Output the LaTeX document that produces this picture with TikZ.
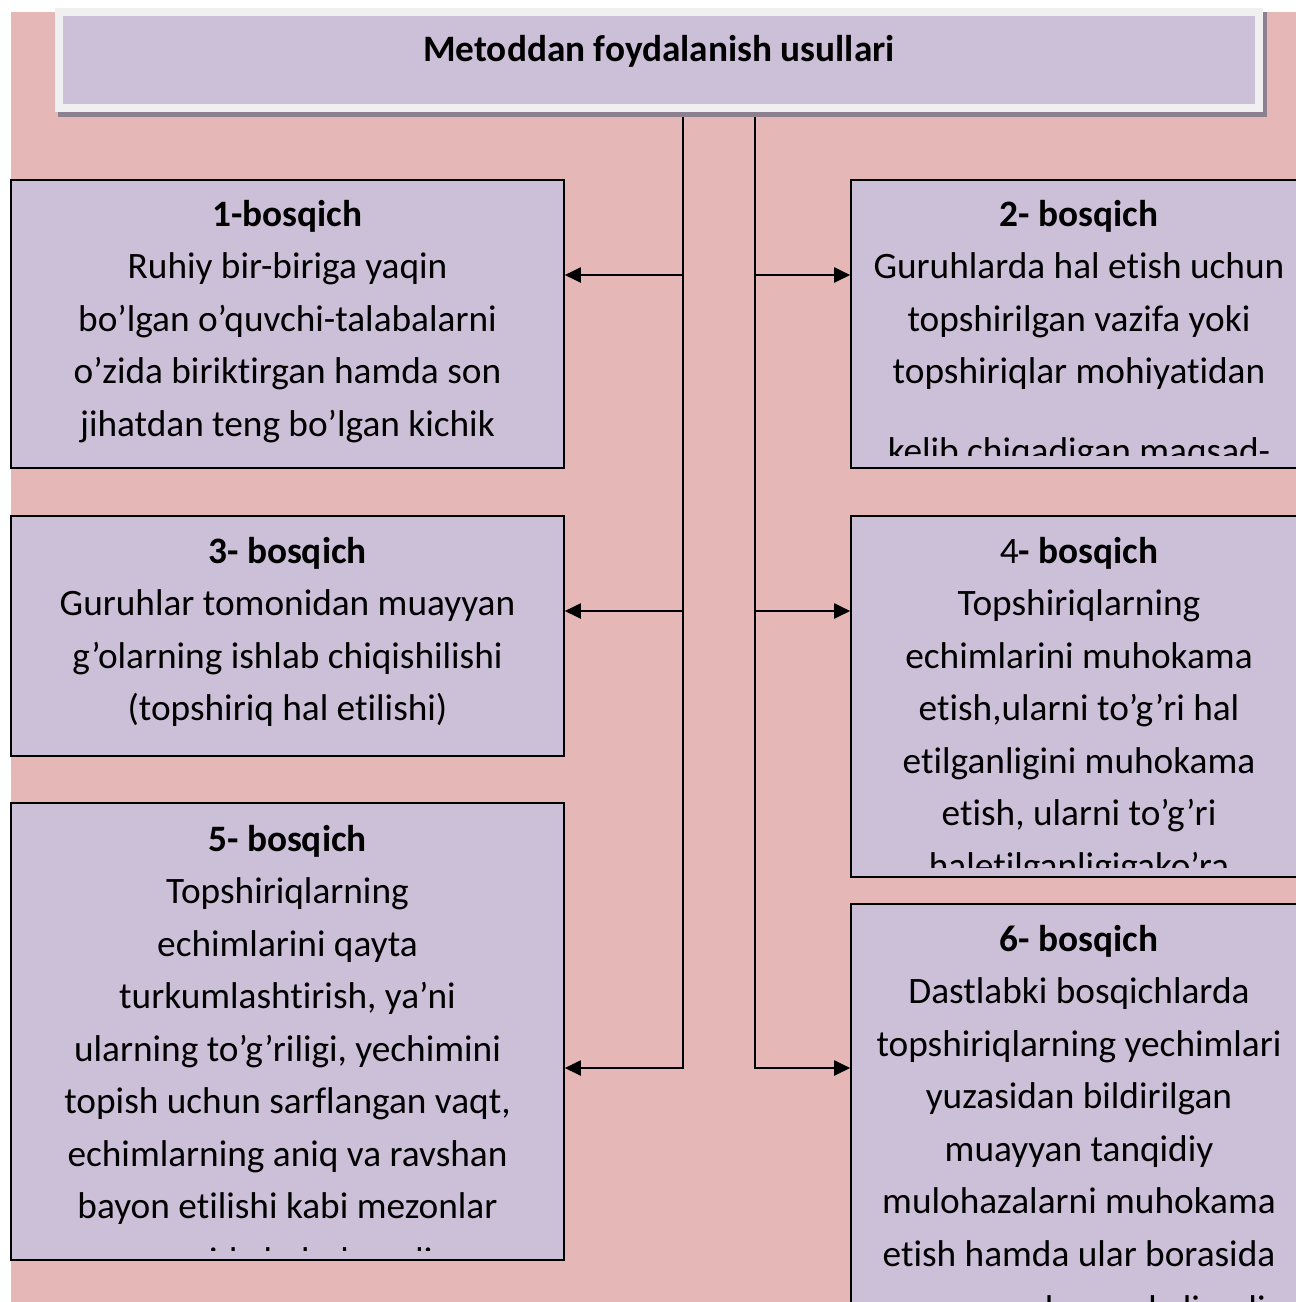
\documentclass[tikz,border=0pt]{standalone}
\usepackage{fontspec}
\setmainfont{Carlito}[Ligatures={NoCommon}]
\usetikzlibrary{arrows.meta}

\definecolor{bgpink}{HTML}{E5B8B7}
\definecolor{lavender}{HTML}{CCC0D9}
\definecolor{framegray}{HTML}{F0F0F0}
\definecolor{shadowgray}{HTML}{8C8091}

\newcommand{\bodyfont}{\fontsize{37.3}{52.5}\selectfont}
% a stage text: heading line, then the body lines
\newcommand{\stagelines}[2]{\parbox[t]{600pt}{\centering\bodyfont #1\\ #2}}

\tikzset{
  stagebox/.style={draw=black, line width=1.6pt, fill=lavender, inner sep=0pt},
  leftbox/.style={stagebox, minimum width=553pt},
  rightbox/.style={stagebox, minimum width=456pt},
  stagetext/.style={anchor=base, inner sep=0pt},
  link/.style={draw=black, line width=2pt, line join=miter},
  arr/.style={link, -{Triangle[length=16pt,width=15pt]}},
}

\begin{document}
\begin{tikzpicture}[x=1pt,y=-1pt]
\useasboundingbox (0,0) rectangle (1296,1302);
\clip (0,0) rectangle (1296,1302);

% backdrop
\fill[bgpink] (11,12) rectangle (1296,1302);

% stage boxes
\node[leftbox,  minimum height=288pt] (s1) at (287.5,324) {};
\node[rightbox, minimum height=288pt] (s2) at (1079,324) {};
\node[leftbox,  minimum height=240pt] (s3) at (287.5,636) {};
\node[rightbox, minimum height=361pt] (s4) at (1079,696.5) {};
\node[leftbox,  minimum height=457pt] (s5) at (287.5,1031.5) {};
\node[rightbox, minimum height=416pt] (s6) at (1079,1112) {};

% stage texts, each kept inside its box
\begin{scope}
  \clip ([yshift=10pt]s1.south west) rectangle ([yshift=-10pt]s1.north east);
  \node[stagetext] (t1) at (287.5,226) {\stagelines{\textbf{1-bosqich}}{%
    Ruhiy bir-biriga yaqin\\
    bo’lgan o’quvchi-talabalarni\\
    o’zida biriktirgan hamda son\\
    jihatdan teng bo’lgan kichik}};
\end{scope}
\begin{scope}
  \clip ([yshift=13pt]s2.south west) rectangle ([yshift=-10pt]s2.north east);
  \node[stagetext] (t2) at (1079,226) {\stagelines{\textbf{2- bosqich}}{%
    Guruhlarda hal etish uchun\\
    topshirilgan vazifa yoki\\
    topshiriqlar mohiyatidan\\[27pt]
    kelib chiqadigan maqsad-}};
\end{scope}
\begin{scope}
  \clip ([yshift=10pt]s3.south west) rectangle ([yshift=-10pt]s3.north east);
  \node[stagetext] (t3) at (287.5,563) {\stagelines{\textbf{3- bosqich}}{%
    Guruhlar tomonidan muayyan\\
    g’olarning ishlab chiqishilishi\\
    (topshiriq hal etilishi)}};
\end{scope}
\begin{scope}
  \clip ([yshift=10pt]s4.south west) rectangle ([yshift=-10pt]s4.north east);
  \node[stagetext] (t4) at (1079,563) {\stagelines{4\textbf{- bosqich}}{%
    Topshiriqlarning\\
    echimlarini muhokama\\
    etish,ularni to’g’ri hal\\
    etilganligini muhokama\\
    etish, ularni to’g’ri\\
    haletilganligigako’ra}};
\end{scope}
\begin{scope}
  \clip ([yshift=10pt]s5.south west) rectangle ([yshift=-10pt]s5.north east);
  \node[stagetext] (t5) at (287.5,851) {\stagelines{\textbf{5- bosqich}}{%
    Topshiriqlarning\\
    echimlarini qayta\\
    turkumlashtirish, ya’ni\\
    ularning to’g’riligi, yechimini\\
    topish uchun sarflangan vaqt,\\
    echimlarning aniq va ravshan\\
    bayon etilishi kabi mezonlar\\[2pt]
    asosida baholanadi}};
\end{scope}
\begin{scope}
  \clip ([yshift=10pt]s6.south west) rectangle ([yshift=-10pt]s6.north east);
  \node[stagetext] (t6) at (1079,951) {\stagelines{\textbf{6- bosqich}}{%
    Dastlabki bosqichlarda\\
    topshiriqlarning yechimlari\\
    yuzasidan bildirilgan\\
    muayyan tanqidiy\\
    mulohazalarni muhokama\\
    etish hamda ular borasida\\[3pt]
    yagona xulosaga kelinadi}};
\end{scope}

% trunk lines and branch points
\coordinate (vl0) at (683,110);
\coordinate (vl1) at (683,1068);
\coordinate (vr0) at (755,110);
\coordinate (vr1) at (755,1068);
\coordinate (jl1) at (683,275);
\coordinate (jl2) at (683,611);
\coordinate (jr1) at (755,275);
\coordinate (jr2) at (755,611);

\draw[arr] (vl0) -- (vl1) -- (vl1 -| s5.east);
\draw[arr] (vr0) -- (vr1) -- (vr1 -| s6.west);
\draw[arr] (jl1) -- (jl1 -| s1.east);
\draw[arr] (jl2) -- (jl2 -| s3.east);
\draw[arr] (jr1) -- (jr1 -| s2.west);
\draw[arr] (jr2) -- (jr2 -| s4.west);

% title panel with its frame and shadow
\fill[shadowgray] (58,12) rectangle (1267,117);
\node[fill=framegray, minimum width=1208pt, minimum height=104pt, inner sep=0pt] (frame) at (659,60) {};
\node[fill=lavender, minimum width=1192pt, minimum height=88pt, inner sep=0pt] (title) at (frame.center) {};
\node[anchor=base, inner sep=0pt] (titletext) at (659,61)
  {\fontsize{37.3}{44}\selectfont\bfseries Metoddan foydalanish usullari};
\end{tikzpicture}
\end{document}
